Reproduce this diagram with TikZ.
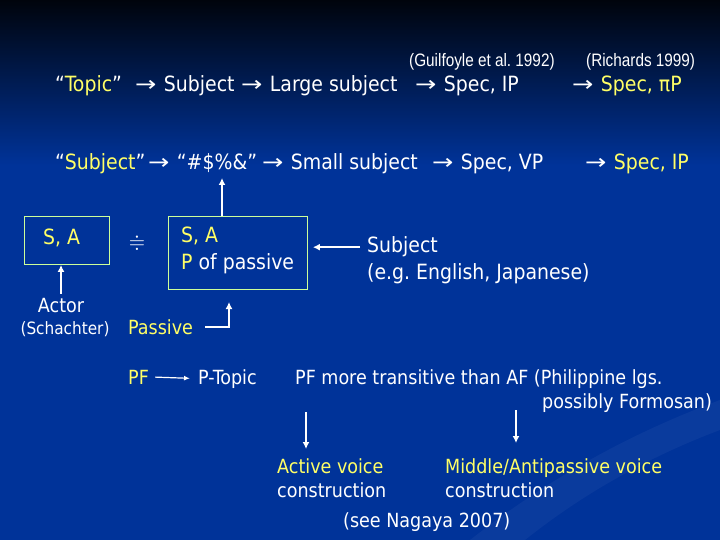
\documentclass[tikz,border=0pt]{standalone}
\usepackage{fontspec}
\usepackage{amssymb}
\usetikzlibrary{arrows.meta}
\setmainfont{DejaVu Sans Condensed}
\newfontfamily\narrowfont{Liberation Sans}[FakeStretch=0.85]
\definecolor{bgblue}{HTML}{003399}
\definecolor{bgtop}{HTML}{00040C}
\definecolor{hlyellow}{HTML}{FFFF66}
\definecolor{boxline}{HTML}{CCFF99}
\newcommand\yel[1]{\textcolor{hlyellow}{#1}}
\newcommand\ra{\scalebox{1.35}[1]{→}\hspace{0.35em}}
\newcommand\bigsz{\fontsize{21bp}{25bp}\selectfont}
\newcommand\smallsz{\fontsize{19.5bp}{23bp}\selectfont}
\newcommand\citesz{\narrowfont\fontsize{18bp}{21bp}\selectfont}
\frenchspacing

\begin{document}
\begin{tikzpicture}
[x=1bp,y=-1bp,
 txtbig/.style={anchor=base west,inner sep=0pt,text=white,font=\bigsz},
 txtsmall/.style={anchor=base west,inner sep=0pt,text=white,font=\smallsz},
 citedecorate/.style={anchor=base west,inner sep=0pt,text=white,font=\citesz},
 boxdecorate/.style={draw=boxline,line width=0.9bp,inner sep=0pt,anchor=north west},
 arrowdecorate/.style={-{Latex[length=7bp,width=7bp]},draw=white,line width=1.7bp}]
%% background
\useasboundingbox (0,0) rectangle (720,540);
\fill[bgblue] (0,0) rectangle (720,540);
\shade[top color=bgtop,bottom color=bgblue] (0,0) rectangle (720,165);
\fill[white,opacity=0.04] (470,540) .. controls (560,470) and (640,430) .. (720,400)
  -- (720,430) .. controls (640,460) and (575,500) .. (525,540) -- cycle;
%% citations
\node[citedecorate] (guil) at (409,67) {(Guilfoyle et al. 1992)};
\node[citedecorate] (rich) at (586,67) {(Richards 1999)};
%% the two chains
\foreach \nodename/\x/\y/\nodetext in {
  topic/55/92/{“\yel{Topic}”}, tsubj/135/92/{\ra Subject},
  large/241/92/{\ra Large subject}, specip/415/92/{\ra Spec, IP},
  specpi/572/92/{\ra \yel{Spec, πP}},
  subjq/55/170/{“\yel{Subject}”}, hash/148/170/{\ra “\#\$\%\&”},
  small/262/170/{\ra Small subject}, specvp/432/170/{\ra Spec, VP},
  specipb/585/170/{\ra \yel{Spec, IP}},
  sa/43/245/{\yel{S, A}}, sab/181/243/{\yel{S, A}},
  pofp/181/270/{\yel{P} of passive},
  subj/367/253/{Subject}, eg/367/280/{(e.g. English, Japanese)}} {
  \node[txtbig] (\nodename) at (\x,\y) {\nodetext};
}
\foreach \nodename/\x/\y/\nodetext in {
  passive/128/334/{\yel{Passive}}, pf/128/384/{\yel{PF}},
  ptopic/198/384/{P-Topic},
  pfmore/295/384/{PF more transitive than AF (Philippine lgs.},
  formosan/542/408/{possibly Formosan)},
  actv/277/473/{\yel{Active voice}}, actc/277/497/{construction},
  midv/445/473/{\yel{Middle/Antipassive voice}}, midc/445/497/{construction},
  nagaya/343/527/{(see Nagaya 2007)}} {
  \node[txtsmall] (\nodename) at (\x,\y) {\nodetext};
}
\node[anchor=base,inner sep=0pt,text=white,font=\smallsz] (actor) at (61,312) {Actor};
\node[anchor=base,inner sep=0pt,text=white,font=\fontsize{17bp}{20bp}\selectfont]
  (schach) at (65,334) {(Schachter)};
\node[text=white,font=\bigsz,inner sep=0pt] (approx) at (137,243) {$\doteqdot$};
%% boxes
\node[boxdecorate,minimum width=85bp,minimum height=48bp] (boxsa) at (24,216) {};
\node[boxdecorate,minimum width=139bp,minimum height=73bp] (boxpp) at (168,216) {};
%% connectors
\coordinate (hashpt) at (222,178);
\coordinate (passhead) at (229,302);
\draw[arrowdecorate] (hashpt |- boxpp.north) -- (hashpt);
\draw[arrowdecorate] ([yshift=4bp]actor.north) -- (actor.north |- boxsa.south);
\draw[arrowdecorate] ([xshift=12bp]passive.east) -| (passhead);
\draw[arrowdecorate,shorten >=5bp] ([xshift=-7bp]subj.west) -- (boxpp.east |- subj.west);
\draw[-{Latex[length=6bp,width=5bp]},draw=white,line width=1.2bp,
  shorten <=6bp,shorten >=8bp] (pf.east) -- (ptopic.west);
\foreach \nodename/\x/\ya/\yb in {actarr/306/412/449, midarr/516/410/443} {
  \coordinate (\nodename a) at (\x,\ya);
  \coordinate (\nodename b) at (\x,\yb);
  \draw[arrowdecorate] (\nodename a) -- (\nodename b);
}
\end{tikzpicture}
\end{document}
